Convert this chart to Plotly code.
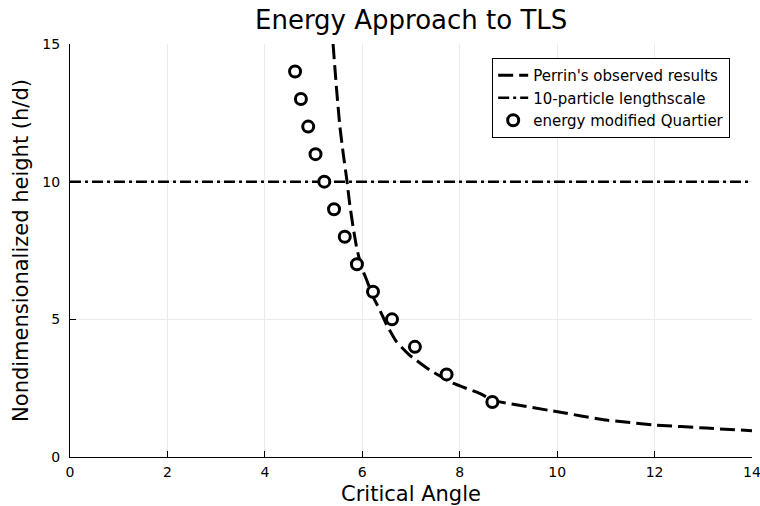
import plotly.graph_objects as go

perrin_x = [5.40, 5.47, 5.54, 5.61, 5.68, 5.74, 5.81, 5.88, 5.98, 6.09, 6.22, 6.36, 6.50, 6.70,
            6.97, 7.38, 7.86, 8.41, 8.70, 9.98, 11.01, 12.03, 13.06, 14.0]
perrin_y = [15.0, 13.4, 12.0, 11.0, 10.1, 9.21, 8.37, 7.64, 6.91, 6.43, 5.82, 5.34, 4.80, 4.19,
            3.70, 3.16, 2.68, 2.31, 2.05, 1.65, 1.34, 1.16, 1.05, 0.955]

# 10-particle lengthscale
ls_x = [0, 14]
ls_y = [10, 10]

# energy modified Quartier
q_x = [4.62, 4.74, 4.89, 5.04, 5.22, 5.42, 5.64, 5.89, 6.22, 6.61, 7.08, 7.73, 8.67]
q_y = [14, 13, 12, 11, 10, 9, 8, 7, 6, 5, 4, 3, 2]

font = "DejaVu Sans"

fig = go.Figure()
fig.add_trace(go.Scatter(x=perrin_x, y=perrin_y, mode="lines", name="Perrin's observed results",
                         line=dict(color="black", width=3, dash="15px,6px", shape="spline", smoothing=0.3)))
fig.add_trace(go.Scatter(x=ls_x, y=ls_y, mode="lines", name="10-particle lengthscale",
                         line=dict(color="black", width=2.5, dash="11px,4px,3px,4px")))
fig.add_trace(go.Scatter(x=q_x, y=q_y, mode="markers", name="energy modified Quartier",
                         marker=dict(symbol="circle", size=11, color="white",
                                     line=dict(color="black", width=3))))

axis_common = dict(showline=True, linecolor="black", linewidth=1, ticks="inside", ticklen=6,
                   tickcolor="black", showgrid=True, gridcolor="#ebebeb", gridwidth=1,
                   zeroline=False, mirror=False, automargin=False, ticklabeloverflow="allow",
                   tickfont=dict(family=font, size=14, color="black"))

fig.update_layout(
    width=760, height=506,
    margin=dict(l=70, r=8, t=44, b=49),
    paper_bgcolor="white", plot_bgcolor="white",
    title=dict(text="Energy Approach to TLS", x=0.541, xanchor="center", y=0.96, yanchor="middle",
               font=dict(family=font, size=26, color="black")),
    xaxis=dict(range=[0, 14], tickvals=[0, 2, 4, 6, 8, 10, 12, 14], ticklabelstandoff=2,
               title=dict(text="Critical Angle", font=dict(family=font, size=21, color="black"), standoff=9),
               **axis_common),
    yaxis=dict(range=[0, 15], tickvals=[0, 5, 10, 15], ticklabelstandoff=6,
               title=dict(text="Nondimensionalized height (h/d)", font=dict(family=font, size=21, color="black"), standoff=8),
               **axis_common),
    legend=dict(x=0.968, y=0.966, xanchor="right", yanchor="top", bgcolor="white",
                bordercolor="black", borderwidth=1, tracegroupgap=0,
                font=dict(family=font, size=15, color="black")),
    showlegend=True,
)

fig.write_html("out.html")
